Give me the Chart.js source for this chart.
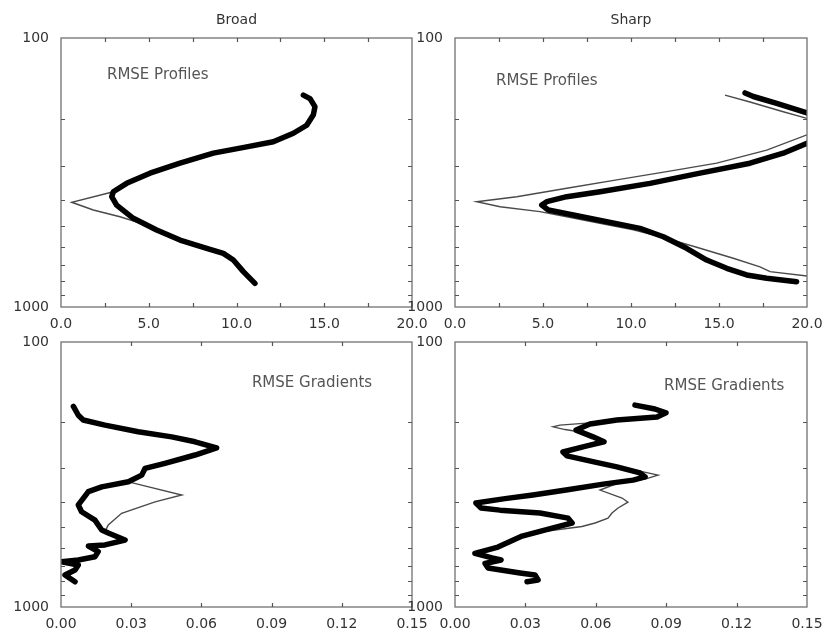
<!DOCTYPE html>
<html>
<head>
<meta charset="utf-8">
<script src="https://cdn.jsdelivr.net/npm/chart.js@4"></script>
<style>
  body { margin: 0; background: #fff; width: 823px; height: 637px; overflow: hidden; position: relative; }
  canvas { position: absolute; display: block; }
</style>
</head>
<body>
<canvas id="broadProfile" width="440" height="340" style="left:0;top:0"></canvas>
<canvas id="sharpProfile" width="423" height="340" style="left:400px;top:0"></canvas>
<canvas id="broadGradient" width="440" height="322" style="left:0;top:315px"></canvas>
<canvas id="sharpGradient" width="423" height="322" style="left:400px;top:315px"></canvas>
<script>
// axis ticks
const pressureTicks = [100, 1000];
const pressureTickMarks = [200, 300, 400, 500, 600, 700, 800, 900];
const profileTicks = [0, 5, 10, 15, 20];
const profileTickMarks = [2.5, 5, 7.5, 10, 12.5, 15, 17.5];
const gradientTicks = [0, 0.03, 0.06, 0.09, 0.12, 0.15];
const gradientTickMarks = [0.03, 0.06, 0.09, 0.12];

// Broad - RMSE profiles
const broadProfileThickP = [163, 168, 180, 193, 211, 226, 243, 254, 268, 292, 318, 347, 373, 389, 418, 468, 517, 564, 605, 632, 669, 739, 817];
const broadProfileThick = [13.81, 14.19, 14.47, 14.38, 14.0, 13.24, 12.10, 10.58, 8.68, 6.78, 5.07, 3.74, 2.98, 2.89, 3.17, 4.12, 5.45, 6.78, 8.30, 9.25, 9.82, 10.39, 11.05];
const broadProfileThinP = [163, 168, 180, 193, 211, 226, 243, 254, 268, 292, 318, 347, 373, 408, 436, 462, 496, 564, 605, 632, 669, 739, 817];
const broadProfileThin = [13.81, 14.19, 14.47, 14.38, 14.0, 13.24, 12.10, 10.58, 8.68, 6.78, 5.07, 3.74, 2.98, 0.61, 1.84, 3.36, 4.88, 6.78, 8.30, 9.25, 9.82, 10.39, 11.05];

// Sharp - RMSE profiles
const sharpProfileThickP = [160, 165, 175, 190, 216, 246, 268, 292, 318, 347, 373, 389, 406, 418, 436, 455, 482, 510, 548, 605, 669, 718, 760, 782, 805];
const sharpProfileThick = [16.48, 16.95, 18.28, 20.0, 22.5, 20.0, 18.65, 16.76, 13.92, 11.08, 8.24, 6.35, 5.21, 4.93, 5.30, 6.72, 8.62, 10.51, 11.84, 13.16, 14.30, 15.44, 16.57, 17.71, 19.41];
const sharpProfileThinP = [163, 173, 188, 199, 214, 229, 261, 292, 314, 337, 362, 389, 406, 424, 442, 475, 517, 556, 605, 659, 709, 739, 767, 780];
const sharpProfileThin = [15.34, 16.76, 18.65, 20.0, 21.5, 20.0, 17.71, 14.87, 12.03, 9.19, 6.35, 3.51, 1.23, 2.56, 4.83, 7.29, 10.13, 12.03, 13.92, 15.81, 17.33, 17.90, 20.0, 21.0];

// Broad - RMSE gradients
const broadGradientThickP = [175, 189, 197, 206, 218, 228, 238, 251, 267, 287, 300, 318, 337, 352, 367, 412, 437, 470, 512, 526, 559, 583, 589, 618, 646, 665, 675, 694, 725, 757, 803];
const broadGradientThick = [0.0053, 0.0074, 0.0095, 0.0188, 0.0330, 0.0473, 0.0573, 0.0665, 0.0573, 0.0444, 0.0359, 0.0345, 0.0288, 0.0174, 0.0117, 0.0074, 0.0088, 0.0145, 0.0174, 0.0202, 0.0274, 0.0188, 0.0117, 0.0159, 0.0145, 0.0074, 0.0003, 0.0074, 0.0060, 0.0017, 0.0060];
const broadGradientThinP = [175, 189, 197, 206, 218, 228, 238, 251, 267, 287, 300, 318, 337, 378, 401, 443, 490, 520, 526, 559, 583, 589, 618, 646, 665, 675, 694, 725, 757, 803];
const broadGradientThin = [0.0053, 0.0074, 0.0095, 0.0188, 0.0330, 0.0473, 0.0573, 0.0665, 0.0573, 0.0444, 0.0359, 0.0345, 0.0288, 0.0516, 0.0402, 0.0259, 0.0202, 0.0188, 0.0202, 0.0274, 0.0188, 0.0117, 0.0159, 0.0145, 0.0074, 0.0003, 0.0074, 0.0060, 0.0017, 0.0060];

// Sharp - RMSE gradients
const sharpGradientThickP = [173, 179, 185, 192, 197, 204, 215, 228, 238, 247, 260, 269, 284, 296, 312, 323, 332, 343, 362, 378, 390, 405, 423, 431, 442, 462, 482, 501, 540, 594, 628, 653, 665, 685, 713, 744, 757, 791, 803];
const sharpGradientThick = [0.0767, 0.0852, 0.0899, 0.0861, 0.0690, 0.0575, 0.0516, 0.0588, 0.0635, 0.0558, 0.0460, 0.0477, 0.0597, 0.0690, 0.0788, 0.0810, 0.0759, 0.0639, 0.0473, 0.0332, 0.0213, 0.0089, 0.0111, 0.0192, 0.0362, 0.0482, 0.0499, 0.0426, 0.0286, 0.0183, 0.0085, 0.0158, 0.0196, 0.0128, 0.0141, 0.0277, 0.0341, 0.0354, 0.0307];
const sharpGradientThinP = [173, 179, 185, 192, 197, 202, 206, 209, 214, 219, 228, 238, 247, 260, 269, 284, 296, 307, 318, 329, 342, 362, 388, 402, 423, 442, 462, 482, 497, 521, 540, 594, 628, 653, 665, 685, 713, 744, 757, 791, 803];
const sharpGradientThin = [0.0767, 0.0852, 0.0899, 0.0861, 0.0690, 0.0575, 0.0447, 0.0418, 0.0469, 0.0541, 0.0588, 0.0635, 0.0558, 0.0460, 0.0477, 0.0597, 0.0690, 0.0788, 0.0865, 0.0810, 0.0690, 0.0618, 0.0712, 0.0737, 0.0695, 0.0669, 0.0652, 0.0597, 0.0541, 0.0362, 0.0286, 0.0183, 0.0085, 0.0158, 0.0196, 0.0128, 0.0141, 0.0277, 0.0341, 0.0354, 0.0307];

const FONT = 'DejaVu Sans';

// pair x values with pressure levels
function toPoints(xs, ps) {
    return xs.map((v, i) => ({ x: v, y: ps[i] }));
}

// frame, inward tick marks and panel texts
const panelDecor = {
    id: 'panelDecor',
    afterDraw(chart, args, opts) {
        const { ctx, chartArea: a, scales: { x, y } } = chart;
        ctx.save();
        ctx.strokeStyle = '#707070';
        ctx.lineWidth = 1.3;
        ctx.strokeRect(a.left, a.top, a.right - a.left, a.bottom - a.top);

        ctx.beginPath();
        ctx.lineWidth = 1.2;
        ctx.strokeStyle = '#555';
        opts.xMarks.forEach(v => {
            const px = Math.round(x.getPixelForValue(v)) + 0.5;
            ctx.moveTo(px, a.top); ctx.lineTo(px, a.top + 4);
            ctx.moveTo(px, a.bottom); ctx.lineTo(px, a.bottom - 4);
        });
        pressureTickMarks.forEach(v => {
            const py = Math.round(y.getPixelForValue(v)) + 0.5;
            ctx.moveTo(a.left, py); ctx.lineTo(a.left + 4, py);
            ctx.moveTo(a.right, py); ctx.lineTo(a.right - 4, py);
        });
        ctx.stroke();

        if (opts.title) {
            ctx.fillStyle = '#333';
            ctx.font = '14px "' + FONT + '"';
            ctx.textAlign = 'center';
            ctx.textBaseline = 'middle';
            ctx.fillText(opts.title, (a.left + a.right) / 2, a.top - 18);
        }
        ctx.fillStyle = '#555';
        ctx.font = '15px "' + FONT + '"';
        ctx.textAlign = 'left';
        ctx.textBaseline = 'middle';
        ctx.fillText(opts.label, x.getPixelForValue(opts.labelAt[0]), y.getPixelForValue(opts.labelAt[1]));
        ctx.restore();
    }
};

function makePanel(id, cfg) {
    const canvas = document.getElementById(id);
    const left = parseFloat(canvas.style.left) || 0;
    const top = parseFloat(canvas.style.top) || 0;
    const w = canvas.width, h = canvas.height;

    return new Chart(canvas, {
        type: 'scatter',
        data: {
            datasets: [
                {
                    data: toPoints(cfg.thick, cfg.thickP),
                    showLine: true,
                    borderColor: '#000',
                    borderWidth: 5.5,
                    borderJoinStyle: 'round',
                    borderCapStyle: 'round',
                    pointRadius: 0,
                    clip: 0
                },
                {
                    data: toPoints(cfg.thin, cfg.thinP),
                    showLine: true,
                    borderColor: '#4a4a4a',
                    borderWidth: 1.4,
                    pointRadius: 0,
                    clip: 0
                }
            ]
        },
        options: {
            responsive: false,
            animation: false,
            devicePixelRatio: 1,
            layout: {
                padding: { left: 0, top: cfg.plot.t - top, right: w - (cfg.plot.r - left), bottom: 0 }
            },
            plugins: {
                legend: { display: false },
                tooltip: { enabled: false },
                panelDecor: { title: cfg.title, label: cfg.label, labelAt: cfg.labelAt, xMarks: cfg.xMarks }
            },
            scales: {
                x: {
                    type: 'linear',
                    min: cfg.xTicks[0],
                    max: cfg.xTicks[cfg.xTicks.length - 1],
                    grid: { display: false },
                    border: { display: false },
                    ticks: {
                        autoSkip: false,
                        maxRotation: 0,
                        padding: 1,
                        color: '#333',
                        font: { family: FONT, size: 14 },
                        callback: v => v.toFixed(cfg.digits)
                    },
                    afterBuildTicks: s => { s.ticks = cfg.xTicks.map(v => ({ value: v })); },
                    afterFit: s => { s.height = top + h - cfg.plot.b; s.paddingLeft = 0; s.paddingRight = 0; }
                },
                y: {
                    type: 'logarithmic',
                    min: 100,
                    max: 1000,
                    reverse: true,
                    grid: { display: false },
                    border: { display: false },
                    ticks: {
                        padding: 4,
                        color: '#333',
                        font: { family: FONT, size: 14 },
                        callback: v => String(v)
                    },
                    afterBuildTicks: s => { s.ticks = pressureTicks.map(v => ({ value: v })); },
                    afterFit: s => { s.width = cfg.plot.l - left; s.paddingTop = 0; s.paddingBottom = 0; }
                }
            }
        },
        plugins: [panelDecor]
    });
}

makePanel('broadProfile', {
    title: 'Broad', label: 'RMSE Profiles', labelAt: [2.62, 137],
    thick: broadProfileThick, thickP: broadProfileThickP,
    thin: broadProfileThin, thinP: broadProfileThinP,
    xTicks: profileTicks, xMarks: profileTickMarks, digits: 1,
    plot: { l: 61, t: 38, r: 412, b: 307 }
});

makePanel('sharpProfile', {
    title: 'Sharp', label: 'RMSE Profiles', labelAt: [2.33, 145],
    thick: sharpProfileThick, thickP: sharpProfileThickP,
    thin: sharpProfileThin, thinP: sharpProfileThinP,
    xTicks: profileTicks, xMarks: profileTickMarks, digits: 1,
    plot: { l: 455, t: 38, r: 807, b: 307 }
});

makePanel('broadGradient', {
    title: '', label: 'RMSE Gradients', labelAt: [0.0816, 143],
    thick: broadGradientThick, thickP: broadGradientThickP,
    thin: broadGradientThin, thinP: broadGradientThinP,
    xTicks: gradientTicks, xMarks: gradientTickMarks, digits: 2,
    plot: { l: 61, t: 342, r: 412, b: 607 }
});

makePanel('sharpGradient', {
    title: '', label: 'RMSE Gradients', labelAt: [0.0891, 147],
    thick: sharpGradientThick, thickP: sharpGradientThickP,
    thin: sharpGradientThin, thinP: sharpGradientThinP,
    xTicks: gradientTicks, xMarks: gradientTickMarks, digits: 2,
    plot: { l: 455, t: 342, r: 807, b: 607 }
});
</script>
</body>
</html>
